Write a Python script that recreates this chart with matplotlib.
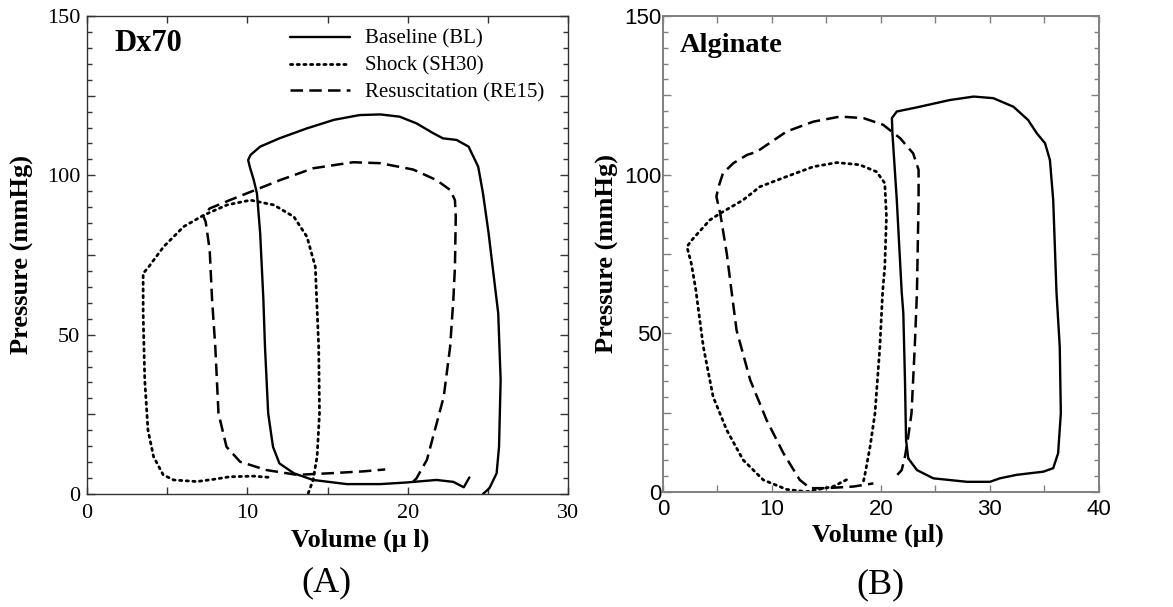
import matplotlib
matplotlib.use("Agg")
import matplotlib.pyplot as plt
from matplotlib.ticker import MultipleLocator, FuncFormatter

# ---- panel A (Dx70) ----
a_bl_vol = [24.7, 25.1, 25.55, 25.7, 25.8, 25.65, 25.45, 25.05, 24.7, 24.4, 23.8, 23.05, 22.2,
            21.6, 20.55, 19.5, 18.3, 17.0, 15.4, 13.7, 12.0, 10.8, 10.2, 10.05, 10.15, 10.4,
            10.6, 10.8, 11.0, 11.1, 11.3, 11.6, 12.0, 12.9, 14.1, 16.2, 18.3, 19.9, 21.8,
            22.85, 23.5, 23.85]
a_bl_p = [0.0, 1.8, 6.5, 14.8, 35.8, 56.7, 65.0, 81.8, 94.3, 102.7, 109.0, 111.1, 111.6,
          113.2, 116.3, 118.4, 119.1, 118.9, 117.4, 114.7, 111.6, 109.0, 106.4, 104.8, 102.7, 98.5,
          94.3, 81.8, 61.0, 46.2, 25.3, 14.8, 9.6, 6.5, 4.4, 3.1, 3.1, 3.6, 4.4,
          3.8, 2.1, 5.2]

a_sh_vol = [13.8, 14.1, 14.35, 14.5, 14.45, 14.24, 13.72, 12.9, 11.65, 10.19, 8.73, 7.28,
            6.03, 4.78, 3.85, 3.5, 3.5, 3.6, 3.8, 4.15, 4.75, 5.4, 6.85, 7.9, 8.9, 10.4, 11.4]
a_sh_p = [0.2, 4.4, 11.7, 25.3, 46.2, 71.3, 80.7, 87.0, 90.7, 92.2, 90.7, 87.5,
          83.9, 77.6, 71.3, 69.2, 56.7, 35.8, 20.1, 11.7, 6.0, 4.4, 3.9, 4.6, 5.4, 5.6, 5.2]

a_re_vol = [20.35, 20.55, 21.2, 21.7, 22.25, 22.65, 22.85, 22.95, 23.0, 22.95, 22.65, 21.8,
            20.35, 18.3, 16.6, 14.1, 12.05, 10.5, 8.9, 7.65, 7.25, 7.4, 7.65, 7.8, 8.0, 8.2,
            8.7, 9.55, 11.2, 13.1, 15.15, 17.25, 18.6]
a_re_p = [3.9, 4.9, 10.7, 20.1, 30.5, 46.2, 61.0, 71.3, 87.0, 92.2, 95.4, 98.5,
          101.8, 103.8, 104.1, 102.2, 98.5, 95.4, 92.2, 89.6, 87.2, 85.4, 76.6, 61.0, 46.2, 25.3,
          14.8, 10.1, 7.5, 6.0, 6.5, 7.1, 7.7]

# ---- panel B (Alginate) ----
b_bl_vol = [22.5, 23.3, 24.8, 27.9, 30.0, 30.9, 32.45, 34.9, 35.8, 36.25, 36.5, 36.4, 36.1,
            35.8, 35.5, 35.05, 34.3, 33.5, 32.15, 30.3, 28.5, 26.3, 23.3, 21.45, 21.0, 21.05,
            21.45, 21.9, 22.05, 22.2, 22.3, 22.5]
b_bl_p = [10.6, 6.9, 4.3, 3.2, 3.2, 4.3, 5.4, 6.4, 7.5, 12.2, 24.8, 45.8, 63.0,
          92.0, 104.6, 109.9, 113.0, 117.2, 121.4, 124.1, 124.6, 123.5, 121.2, 119.9, 117.8, 113.0,
          92.0, 63.0, 56.3, 35.3, 16.4, 10.6]

b_sh_vol = [18.4, 18.55, 19.0, 19.45, 19.9, 20.15, 20.35, 20.5, 20.35, 19.6, 18.05, 15.95, 13.8,
            11.35, 8.9, 7.35, 5.25, 4.3, 2.65, 2.2, 2.6, 3.0, 3.7, 4.6, 5.85, 7.35, 9.2, 11.35,
            13.2, 15.6, 17.1]
b_sh_p = [3.5, 5.9, 14.3, 24.8, 45.8, 63.0, 71.0, 86.8, 97.3, 100.9, 103.1, 103.8, 102.5,
          99.4, 96.2, 92.0, 87.8, 85.7, 79.4, 77.3, 72.0, 64.0, 45.8, 30.0, 19.5, 10.1, 3.8, 0.8,
          0.1, 1.7, 4.3]

b_re_vol = [21.5, 21.9, 22.2, 22.5, 22.8, 23.1, 23.3, 23.45, 23.45, 22.95, 21.75, 20.2, 18.4,
            16.25, 13.8, 11.35, 9.5, 8.6, 7.7, 6.45, 5.5, 5.1, 4.9, 5.25, 5.85, 6.3, 6.75, 8.0,
            9.5, 11.05, 12.55, 13.5, 15.0, 17.45, 19.3]
b_re_p = [5.4, 6.9, 11.1, 17.4, 24.8, 45.8, 63.0, 92.0, 101.5, 106.7, 111.5, 115.7, 117.8,
          118.3, 116.7, 113.6, 109.3, 107.2, 106.2, 103.6, 100.4, 96.2, 93.1, 87.8, 75.2, 63.0, 51.0,
          35.3, 22.7, 12.2, 3.8, 1.2, 1.2, 1.7, 2.7]

labels = ["Baseline (BL)", "Shock (SH30)", "Resuscitation (RE15)"]

SERIF = ["Liberation Serif", "DejaVu Serif"]
SANS = ["Liberation Sans", "DejaVu Sans"]

fig = plt.figure(figsize=(11.73, 6.07), dpi=100)
axA = fig.add_axes([0.0742, 0.1862, 0.410, 0.7875])
axB = fig.add_axes([0.5652, 0.1895, 0.3717, 0.7842])

dot = (0, (0.8, 1.6))
dash = (0, (5, 2.5))


def draw(ax, bl, sh, re_):
    ax.plot(*bl, color="black", lw=1.7, solid_capstyle="round", solid_joinstyle="round",
            label=labels[0])
    ax.plot(*sh, color="black", lw=2.0, linestyle=dot, dash_capstyle="round", label=labels[1])
    ax.plot(*re_, color="black", lw=1.8, linestyle=dash, label=labels[2])


draw(axA, (a_bl_vol, a_bl_p), (a_sh_vol, a_sh_p), (a_re_vol, a_re_p))
draw(axB, (b_bl_vol, b_bl_p), (b_sh_vol, b_sh_p), (b_re_vol, b_re_p))


def style(ax, xmax, tickfont, color, lw, xpad, ypad):
    ax.set_xlim(0, xmax)
    ax.set_ylim(0, 150)
    ax.xaxis.set_major_locator(MultipleLocator(5))
    ax.xaxis.set_major_formatter(FuncFormatter(lambda v, p: f"{v:.0f}" if v % 10 == 0 else ""))
    ax.yaxis.set_major_locator(MultipleLocator(25))
    ax.yaxis.set_minor_locator(MultipleLocator(5))
    ax.yaxis.set_major_formatter(FuncFormatter(lambda v, p: f"{v:.0f}" if v % 50 == 0 else ""))
    ax.tick_params(which="both", direction="in", top=True, right=True, color=color, width=1)
    ax.tick_params(axis="x", which="major", length=5, pad=xpad)
    ax.tick_params(axis="y", which="major", length=6, pad=ypad)
    ax.tick_params(axis="y", which="minor", length=3.5)
    ax.tick_params(which="major", labelsize=16)
    for t in ax.get_xticklabels() + ax.get_yticklabels():
        t.set_family(tickfont)
    for s in ax.spines.values():
        s.set_color(color)
        s.set_linewidth(lw)


style(axA, 30, SERIF, "#333333", 1.0, 7, 5)
style(axB, 40, SANS, "#808080", 1.4, 5, 1)

lab = dict(family=SERIF, fontsize=19, fontweight="bold")
axA.set_xlabel("Volume (\u03bc l)", **lab)
axA.set_ylabel("Pressure (mmHg)", **lab)
axB.set_xlabel("Volume (\u03bcl)", **lab)
axB.set_ylabel("Pressure (mmHg)", **lab)
axA.xaxis.set_label_coords(0.567, -0.096)
axA.yaxis.set_label_coords(-0.135, 0.5)
axB.xaxis.set_label_coords(0.494, -0.09)
axB.yaxis.set_label_coords(-0.128, 0.5)
for ax in (axA, axB):
    ax.xaxis.label.set_va("center")
    ax.yaxis.label.set_va("center")

axA.text(0.058, 0.943, "Dx70", transform=axA.transAxes, family=SERIF, fontsize=22,
         fontweight="bold", va="center", ha="left")
axB.text(0.039, 0.937, "Alginate", transform=axB.transAxes, family=SERIF, fontsize=20.5,
         fontweight="bold", va="center", ha="left")

leg = axA.legend(loc="upper left", bbox_to_anchor=(0.422, 0.972), frameon=False,
                 prop=dict(family=SERIF, size=15), handlelength=2.9, handletextpad=0.7,
                 labelspacing=0.35, borderpad=0, borderaxespad=0)

fig.text(326 / 1173, 1 - 583 / 607, "(A)", family=SERIF, fontsize=26, ha="center", va="center")
fig.text(880 / 1173, 1 - 585 / 607, "(B)", family=SERIF, fontsize=26, ha="center", va="center")

fig.savefig("out.png", dpi=100, facecolor="white")
